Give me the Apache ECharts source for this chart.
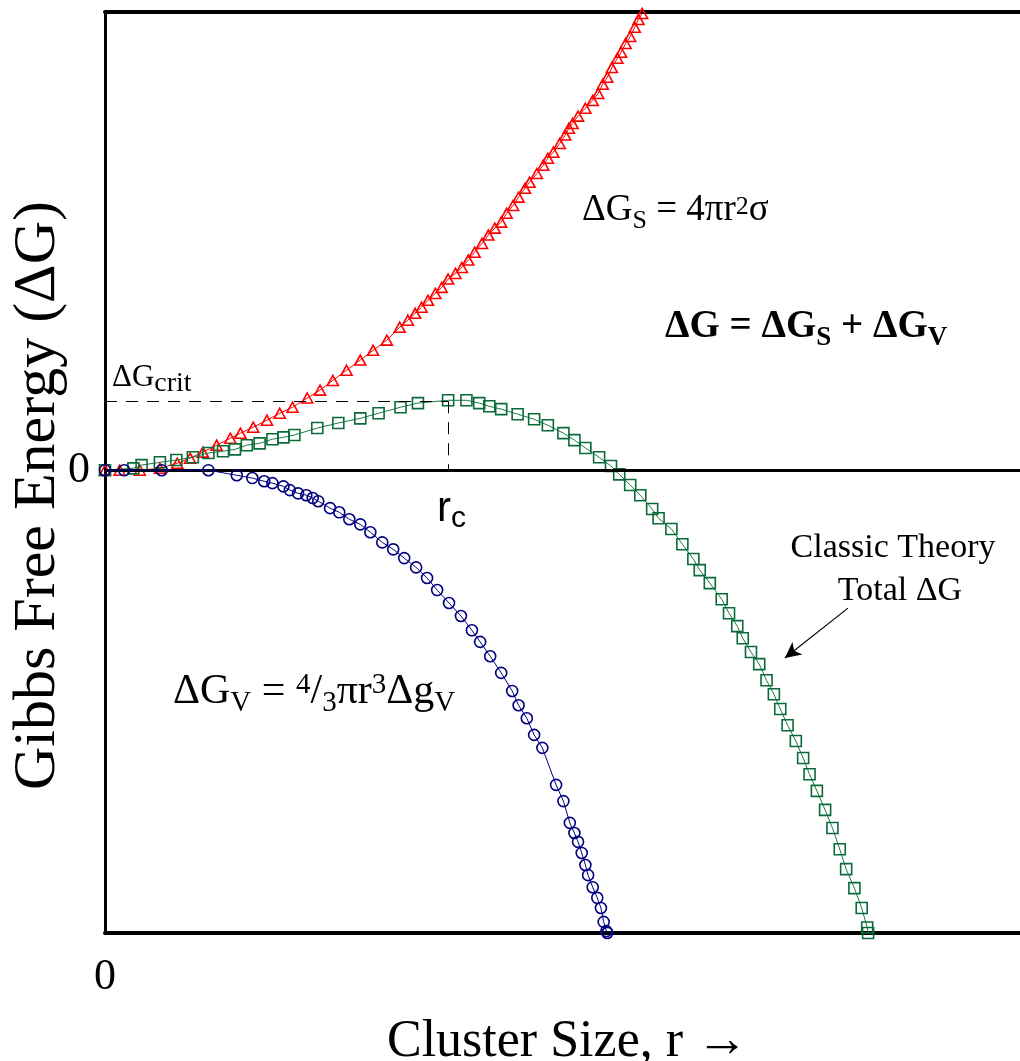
<!DOCTYPE html>
<html>
<head>
<meta charset="utf-8">
<script src="https://cdn.jsdelivr.net/npm/echarts@6/dist/echarts.min.js"></script>
<style>
html,body{margin:0;padding:0;background:#fff;overflow:hidden;}
#chart{width:1020px;height:1061px;}
</style>
</head>
<body>
<div id="chart"></div>
<script>
// Surface term ΔGs (red triangles): [r, ΔG]
const surfaceData = [
  [0,0],[0.16,0],[0.38,0],[0.60,0.04],[0.79,0.15],[0.93,0.26],[1.07,0.39],[1.22,0.54],
  [1.37,0.69],[1.48,0.80],[1.62,0.93],[1.77,1.08],[1.91,1.23],[2.05,1.36],[2.21,1.56],
  [2.35,1.73],[2.49,1.94],[2.64,2.16],[2.79,2.38],[2.93,2.59],[3.08,2.81],[3.22,3.09],
  [3.31,3.24],[3.39,3.39],[3.46,3.52],[3.53,3.67],[3.61,3.82],[3.68,3.95],[3.75,4.13],
  [3.83,4.25],[3.90,4.38],[3.97,4.54],[4.04,4.71],[4.12,4.90],[4.19,5.08],[4.26,5.23],
  [4.33,5.36],[4.39,5.55],[4.46,5.72],[4.52,5.90],[4.59,6.09],[4.64,6.22],[4.72,6.41],
  [4.79,6.59],[4.84,6.74],[4.90,6.87],[4.97,7.06],[5.03,7.24],[5.07,7.39],[5.11,7.49],
  [5.17,7.65],[5.25,7.82],[5.33,7.99],[5.39,8.14],[5.44,8.34],[5.49,8.49],[5.54,8.70],
  [5.60,8.90],[5.64,9.03],[5.69,9.22],[5.74,9.37],[5.79,9.57],[5.83,9.74],[5.87,9.87]
];
// Total ΔG (green squares)
const totalData = [
  [0,0],[0.31,0.04],[0.40,0.11],[0.60,0.17],[0.78,0.22],[0.96,0.28],[1.13,0.37],[1.29,0.41],
  [1.42,0.45],[1.55,0.54],[1.69,0.58],[1.83,0.67],[1.95,0.71],[2.07,0.76],[2.32,0.91],
  [2.55,1.02],[2.79,1.12],[2.99,1.23],[3.23,1.36],[3.42,1.45],[3.75,1.51],[3.95,1.51],
  [4.09,1.45],[4.20,1.38],[4.33,1.32],[4.51,1.21],[4.69,1.10],[4.84,0.97],[5.01,0.80],
  [5.13,0.65],[5.25,0.48],[5.40,0.28],[5.53,0.09],[5.62,-0.09],[5.74,-0.32],[5.85,-0.54],
  [5.98,-0.84],[6.05,-1.04],[6.19,-1.27],[6.31,-1.60],[6.43,-1.92],[6.50,-2.16],[6.61,-2.44],
  [6.74,-2.79],[6.82,-3.09],[6.91,-3.37],[6.97,-3.63],[7.06,-3.93],[7.15,-4.19],[7.23,-4.54],
  [7.31,-4.84],[7.38,-5.16],[7.46,-5.51],[7.55,-5.85],[7.63,-6.22],[7.70,-6.57],[7.78,-6.93],
  [7.87,-7.34],[7.95,-7.73],[8.03,-8.19],[8.10,-8.62],[8.19,-9.03],[8.27,-9.46],[8.33,-9.88],
  [8.34,-10.0]
];
// Volume term ΔGv (blue circles)
const volumeData = [
  [0,0],[0.21,0],[0.62,0],[1.13,0],[1.44,-0.11],[1.61,-0.17],[1.74,-0.24],[1.83,-0.28],
  [1.95,-0.35],[2.02,-0.43],[2.11,-0.50],[2.20,-0.54],[2.27,-0.60],[2.33,-0.67],[2.46,-0.82],
  [2.56,-0.91],[2.67,-1.06],[2.79,-1.17],[2.90,-1.34],[3.03,-1.56],[3.15,-1.71],[3.27,-1.90],
  [3.40,-2.10],[3.52,-2.33],[3.63,-2.59],[3.76,-2.87],[3.89,-3.15],[4.01,-3.46],[4.10,-3.71],
  [4.21,-4.02],[4.33,-4.38],[4.45,-4.77],[4.52,-5.08],[4.61,-5.36],[4.69,-5.72],[4.78,-6.00],
  [4.93,-6.80],[5.01,-7.15],[5.08,-7.62],[5.13,-7.84],[5.17,-8.03],[5.21,-8.27],[5.25,-8.53],
  [5.28,-8.75],[5.33,-9.01],[5.38,-9.24],[5.42,-9.46],[5.45,-9.76],[5.48,-9.96],[5.49,-10.0]
];
// Annotation values
const R_CRIT = 3.75;
const G_CRIT = 1.49;
const ARROW_FROM = [8.12, -2.98];
const ARROW_TO = [7.43, -4.06];
const X_TICKS = [0];
const Y_TICKS = [0];

const SERIF = '"Liberation Serif","Times New Roman",serif';
const SANS = '"Liberation Sans",Arial,sans-serif';

function txt(x, y, text, rich, align) {
  return {
    type: 'text', x: x, y: y, silent: true, z: 100,
    style: { text: text, rich: rich, align: align || 'left', verticalAlign: 'middle', fill: '#000' }
  };
}
function richSet(fs, sfs, weight) {
  return {
    n: { fontFamily: SERIF, fontSize: fs, fontWeight: weight, color: '#000' },
    sub: { fontFamily: SERIF, fontSize: sfs, fontWeight: weight, color: '#000', padding: [22, 0, 0, 0] },
    sup: { fontFamily: SERIF, fontSize: sfs, fontWeight: weight, color: '#000', padding: [0, 0, 6, 0] },
    sup2: { fontFamily: SERIF, fontSize: sfs, fontWeight: weight, color: '#000', padding: [0, 0, 14, 0] }
  };
}

const chart = echarts.init(document.getElementById('chart'), null, { renderer: 'canvas' });
const option = {
  animation: false,
  backgroundColor: '#fff',
  grid: { left: 105, right: 0, top: 12, bottom: 128, containLabel: false, outerBoundsMode: 'none' },
  xAxis: [
    {
      type: 'value', min: 0, max: 10, interval: 10, position: 'bottom',
      name: 'Cluster Size, r \u2192', nameLocation: 'middle', nameGap: 83, nameMoveOverlap: false,
      nameTextStyle: { fontFamily: SERIF, fontSize: 52, color: '#000', padding: [0, 0, 0, 10] },
      axisLine: { show: true, onZero: false, lineStyle: { color: '#000', width: 4 } },
      axisTick: { show: false }, splitLine: { show: false },
      axisLabel: { margin: 22, fontFamily: SERIF, fontSize: 44, color: '#000',
        formatter: v => X_TICKS.indexOf(v) >= 0 ? String(v) : '' }
    },
    {
      type: 'value', min: 0, max: 10, position: 'top',
      axisLine: { show: true, onZero: false, lineStyle: { color: '#000', width: 4 } },
      axisTick: { show: false }, splitLine: { show: false }, axisLabel: { show: false }
    }
  ],
  yAxis: {
    type: 'value', min: -10, max: 9.9, interval: 10,
    name: 'Gibbs Free Energy (\u0394G)', nameLocation: 'middle', nameGap: 37, nameRotate: 90,
    nameMoveOverlap: false,
    nameTextStyle: { fontFamily: SERIF, fontSize: 60, color: '#000', padding: [0, 46, 0, 0] },
    axisLine: { show: true, onZero: false, lineStyle: { color: '#000', width: 3 } },
    axisTick: { show: false }, splitLine: { show: false },
    axisLabel: { margin: 15, fontFamily: SERIF, fontSize: 44, color: '#000',
      formatter: v => Y_TICKS.indexOf(v) >= 0 ? String(v) : '' }
  },
  series: [
    {
      name: 'Surface', type: 'line', data: surfaceData,
      symbol: 'triangle', symbolSize: [11, 10], showAllSymbol: true,
      itemStyle: { color: 'rgba(255,0,0,0)', borderColor: '#ff0000', borderWidth: 1.6 },
      lineStyle: { color: '#ff0000', width: 1 }, z: 3
    },
    {
      name: 'Total', type: 'line', data: totalData,
      symbol: 'rect', symbolSize: 11, showAllSymbol: true,
      itemStyle: { color: 'rgba(0,0,0,0)', borderColor: '#0b6b38', borderWidth: 1.6 },
      lineStyle: { color: '#1c7a48', width: 1 }, z: 4,
      markLine: {
        silent: true, symbol: ['none', 'none'], label: { show: false }, animation: false,
        data: [
          { yAxis: 0, lineStyle: { type: 'solid', color: '#000', width: 3 } },
          [
            { coord: [0, G_CRIT], lineStyle: { type: [12, 9], color: '#000', width: 1 } },
            { coord: [R_CRIT, G_CRIT], lineStyle: { type: [12, 9], color: '#000', width: 1 } }
          ],
          [
            { coord: [R_CRIT, G_CRIT], lineStyle: { type: [12, 9], color: '#000', width: 1 } },
            { coord: [R_CRIT, 0], lineStyle: { type: [12, 9], color: '#000', width: 1 } }
          ],
          [
            { coord: ARROW_FROM, symbol: 'none', lineStyle: { type: 'solid', color: '#000', width: 1.2 } },
            { coord: ARROW_TO, symbol: 'arrow', symbolSize: [12, 16], lineStyle: { type: 'solid', color: '#000', width: 1.2 } }
          ]
        ]
      }
    },
    {
      name: 'Volume', type: 'line', data: volumeData,
      symbol: 'circle', symbolSize: 11, showAllSymbol: true,
      itemStyle: { color: 'rgba(0,0,0,0)', borderColor: '#000080', borderWidth: 1.6 },
      lineStyle: { color: '#000080', width: 1 }, z: 5
    }
  ],
  graphic: [
    txt(582, 210, '{n|\u0394G}{sub|S}{n| = 4\u03C0r}{sup|2}{n|\u03C3}', richSet(37, 26, 'normal')),
    txt(665, 327, '{n|\u0394G = \u0394G}{sub|S}{n| + \u0394G}{sub|V}', richSet(39, 27, 'bold')),
    txt(173, 692, '{n|\u0394G}{sub|V}{n| = }{sup2|4}{n|/}{sub|3}{n|\u03C0r}{sup2|3}{n|\u0394g}{sub|V}', richSet(42, 29, 'normal')),
    txt(893, 548, '{n|Classic Theory}', { n: { fontFamily: SERIF, fontSize: 34, color: '#000' } }, 'center'),
    txt(900, 591, '{n|Total \u0394G}', { n: { fontFamily: SERIF, fontSize: 34, color: '#000' } }, 'center'),
    txt(112, 378, '{n|\u0394G}{sub|crit}', {
      n: { fontFamily: SERIF, fontSize: 31, color: '#000' },
      sub: { fontFamily: SERIF, fontSize: 28, color: '#000', padding: [12, 0, 0, 0] }
    }),
    txt(437, 509, '{n|r}{sub|c}', {
      n: { fontFamily: SANS, fontSize: 42, color: '#000' },
      sub: { fontFamily: SANS, fontSize: 30, color: '#000', padding: [20, 0, 0, 0] }
    })
  ]
};
chart.setOption(option);
</script>
</body>
</html>
